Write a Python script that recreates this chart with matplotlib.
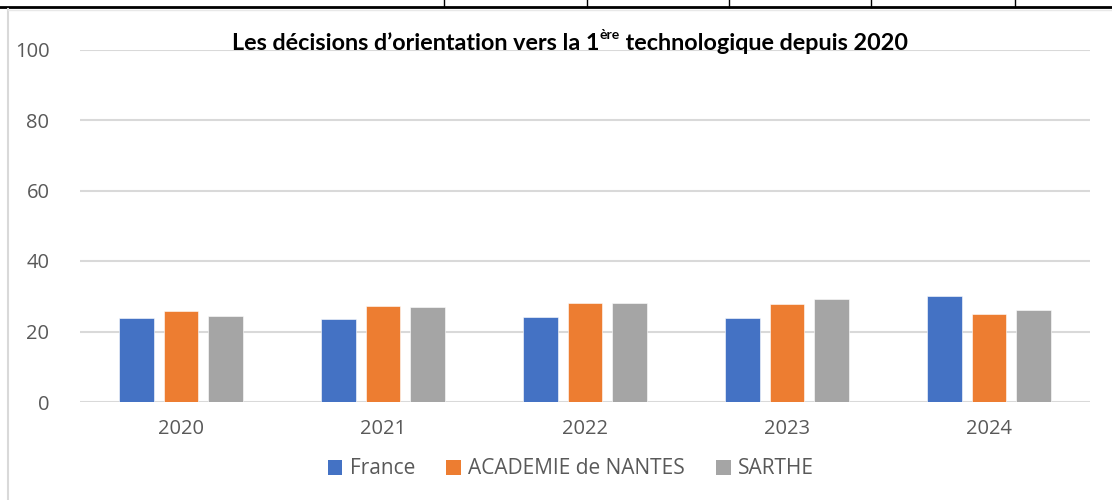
import matplotlib
matplotlib.use("Agg")
import matplotlib.pyplot as plt
from matplotlib.lines import Line2D
from matplotlib.patches import Patch
import numpy as np

years = ["2020", "2021", "2022", "2023", "2024"]
series_names = ["France", "ACADEMIE de NANTES", "SARTHE"]
france = [23.7, 23.5, 24.1, 23.8, 30.1]
academie = [25.8, 27.3, 28.0, 27.9, 25.0]
sarthe = [24.5, 27.0, 28.1, 29.2, 26.1]
yticks = [0, 20, 40, 60, 80, 100]

colors = ["#4472C4", "#ED7D31", "#A5A5A5"]
W, H = 1112, 500
fig = plt.figure(figsize=(W / 100, H / 100), dpi=100)
fig.patch.set_facecolor("white")

ax = fig.add_axes([80 / W, 1 - 402 / H, (1090 - 80) / W, (402 - 49.5) / H])
x = np.arange(len(years))
bw = 0.173
offs = [-0.218, 0.0, 0.218]
for vals, off, c, name in zip([france, academie, sarthe], offs, colors, series_names):
    ax.bar(x + off, vals, width=bw, color=c, label=name, zorder=3,
           edgecolor="white", linewidth=0.4)

ax.set_xlim(-0.5, len(years) - 0.5)
ax.set_ylim(0, 100)
ax.set_yticks(yticks)
ax.set_xticks(x)
ax.set_xticklabels(years)
ax.grid(axis="y", color="#D9D9D9", linewidth=1.5, zorder=0)
for s in ["top", "right", "left", "bottom"]:
    ax.spines[s].set_visible(False)
ax.tick_params(length=0, colors="#595959", labelsize=14.5)
ax.tick_params(axis="y", pad=22)
ax.tick_params(axis="x", pad=12)
for lab in ax.get_xticklabels() + ax.get_yticklabels():
    lab.set_fontfamily("Open Sans")
    lab.set_color("#595959")

# Legend
handles = [Patch(facecolor=c, edgecolor="none") for c in colors]
leg = fig.legend(handles, series_names, loc="center", bbox_to_anchor=(571 / W, 1 - 469 / H),
                 ncol=3, frameon=False, handlelength=0.7, handleheight=0.7,
                 handletextpad=0.35, columnspacing=1.5,
                 prop={"family": "Open Sans", "size": 15})
for t in leg.get_texts():
    t.set_color("#595959")

# Title with superscript
tsize = 16.8
tfont = {"family": "Lato", "weight": "bold", "size": tsize, "color": "black"}
t1 = fig.text(232 / W, 1 - 43 / H, "Les décisions d\u2019orientation vers la 1", va="center", ha="left", **tfont)
a2 = ax.annotate("ère", xy=(1, 0.6), xycoords=t1, va="bottom", ha="left",
                 family="Lato", weight="bold", size=tsize * 0.6, color="black", annotation_clip=False)
a3 = ax.annotate(" technologique depuis 2020", xy=(1, 0), xycoords=(a2, t1), va="bottom", ha="left",
                 annotation_clip=False, **tfont)

# Decorative page lines (table border above)
fig.add_artist(Line2D([0, 1], [1 - 7 / H, 1 - 7 / H], transform=fig.transFigure, color="black", linewidth=2.0))
for xv in [444, 587, 729, 871, 1015]:
    fig.add_artist(Line2D([xv / W, xv / W], [1 - 7 / H, 1.0], transform=fig.transFigure, color="black", linewidth=1.0))
fig.add_artist(Line2D([8 / W, 8 / W], [0, 1 - 9 / H], transform=fig.transFigure, color="#D9D9D9", linewidth=1.5))
fig.add_artist(Line2D([8 / W, 1], [1 - 9.5 / H, 1 - 9.5 / H], transform=fig.transFigure, color="#E8E8E8", linewidth=1.0))

fig.savefig("out.png", dpi=100, facecolor="white")
